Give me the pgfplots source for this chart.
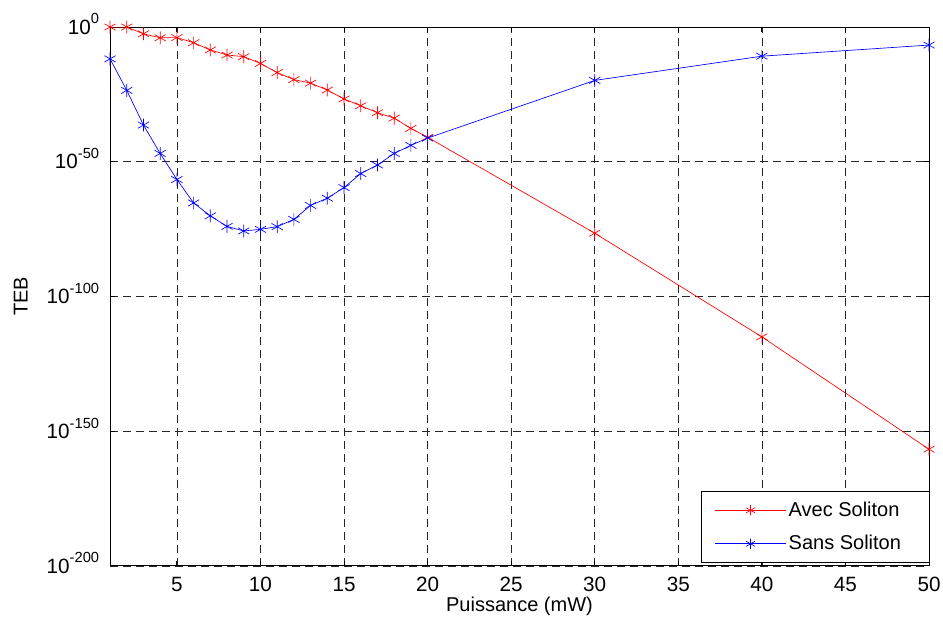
\documentclass[border=0pt]{standalone}
\usepackage{fontspec}
\setmainfont{Liberation Sans}
\usepackage{pgfplots}
\pgfplotsset{compat=1.18}
\usetikzlibrary{calc}
\newcommand{\pe}[1]{10\raisebox{0.5em}{\fontsize{11pt}{11pt}\selectfont #1}}
\begin{document}
\fontsize{15pt}{18pt}\selectfont
\begin{tikzpicture}
\begin{axis}[
  scale only axis,
  width=614pt, height=404pt,
  xmin=1, xmax=50,
  ymode=log,
  ymin=1e-200, ymax=1,
  xtick={5,10,...,50},
  ytick={1e-200,1e-150,1e-100,1e-50,1},
  yticklabels={\pe{-200},\pe{-150},\pe{-100},\pe{-50},\pe{0}},
  minor tick num=0,
  log basis y=10,
  /pgf/number format/assume math mode=true,
  tick align=inside,
  major tick length=4pt,
  grid=major,
  major grid style={black!85, dash pattern=on 6pt off 3.75pt, line width=0.55pt},
  axis line style={black, line width=0.6pt},
  tick style={black, line width=0.6pt},
  tick label style={font=\fontsize{15.5pt}{18pt}\selectfont},
  y tick label style={anchor=base east, yshift=-5.4pt, xshift=-3pt},
  x tick label style={yshift=-3pt},
  xlabel={Puissance (mW)},
  ylabel={TEB},
  label style={font=\fontsize{15pt}{18pt}\selectfont},
  xlabel style={at={(axis description cs:0.5,0)}, anchor=center, yshift=-30.5pt},
  ylabel style={at={(axis description cs:0,0.5)}, anchor=center, yshift=67pt},
  legend style={at={(rel axis cs:1,0)}, anchor=south east, xshift=0.3pt, yshift=2.2pt,
    draw=black, line width=0.6pt, font=\fontsize{15pt}{18pt}\selectfont,
    row sep=8pt, inner xsep=10pt, inner ysep=5.5pt},
  legend cell align=left,
  legend image code/.code={\draw[#1] (0cm,0cm) -- (1.85cm,0cm); \draw[#1, only marks, mark size=3.8pt] plot coordinates {(0.925cm,0cm)};},
]
\addplot[red, line width=0.5pt, mark=asterisk, mark size=4.8pt, mark options={line width=0.5pt}] coordinates {
(1,1e0) (2,1e0) (3,3e-3) (4,1e-4) (5,1.2e-4) (6,1.5e-6) (7,3e-9) (8,4e-11) (9,1e-11)
(10,3e-14) (11,1.2e-17) (12,3e-20) (13,1.5e-21) (14,4e-24) (15,2e-27) (16,6e-30)
(17,1.5e-32) (18,1.5e-34) (19,2.5e-38) (20,1.2e-41) (30,3e-77) (40,1e-115) (50,2e-157)
};
\addlegendentry{Avec Soliton\rule{9pt}{0pt}}
\addplot[blue, line width=0.5pt, mark=asterisk, mark size=4.8pt, mark options={line width=0.5pt}] coordinates {
(1,1.5e-12) (2,3e-24) (3,4e-37) (4,1.2e-47) (5,2.5e-57) (6,5e-66) (7,8e-71) (8,1e-74) (9,2e-76)
(10,8e-76) (11,8e-75) (12,4e-72) (13,6e-67) (14,3e-64) (15,2.5e-60) (16,4e-55)
(17,6e-52) (18,1.2e-47) (19,1.2e-44) (20,6e-42) (30,1.5e-20) (40,1.5e-11) (50,2e-7)
};
\addlegendentry{Sans Soliton\rule{9pt}{0pt}}
\end{axis}
\pgfresetboundingbox
\path[use as bounding box] ($(current axis.south west)+(-82.5pt,-46.5pt)$) rectangle ($(current axis.north east)+(10.5pt,20.25pt)$);
\end{tikzpicture}
\end{document}
